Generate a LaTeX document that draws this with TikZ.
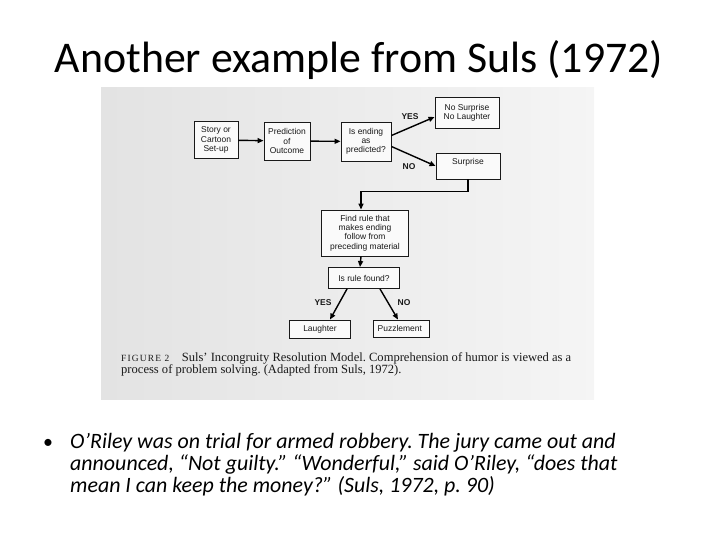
\documentclass[tikz,border=0pt]{standalone}
\usepackage{fontspec}
\setmainfont{Carlito}
\newfontfamily\diagfont{Liberation Sans}
\newfontfamily\capfont{Liberation Serif}
\usepackage{tikz}
\usetikzlibrary{calc,arrows.meta}
\frenchspacing

\begin{document}
\begin{tikzpicture}[x=1bp,y=-1bp,
  blk/.style={draw=black!90, line width=0.9bp, fill=black!2, inner sep=1bp,
    align=center, text=black!90, font=\diagfont\fontsize{8.5}{9.3}\selectfont},
  arr/.style={line width=1.4bp, draw=black, -{Triangle[length=6bp,width=5bp]}},
  lbl/.style={inner sep=0pt, text=black!90, font=\diagfont\bfseries\fontsize{8.5}{9}\selectfont}]
\useasboundingbox (0,0) rectangle (720,540);
% photo of the figure
\shade[left color=black!11, right color=black!4] (101,88) rectangle (594,399);
% title
\node[anchor=base, inner sep=0pt, font=\fontsize{44}{50}\selectfont] (title) at (359,73) {Another example from Suls (1972)};
% boxes
\foreach \n/\x/\y/\w/\h/\t in {
story/216/140/44/37/{Story or\\Cartoon\\Set-up},
predict/287/141/46/38/{Prediction\\of\\Outcome},
isend/366/141.5/50/39/{Is ending\\as\\predicted?},
nosurp/467/113/64/31/{No Surprise\\No Laughter},
surp/468/166/64/26/{Surprise\\~},
find/365/233/87/46/{Find rule that\\makes ending\\follow from\\preceding material},
isrule/364/278/71/21/{Is rule found?},
laugh/320/329/61/18/{Laughter},
puzzle/401/328.5/56/17/{Puzzlement}
}{
\node[blk, minimum width=\w bp, minimum height=\h bp] (\n) at (\x,\y) {\t};
}
% connectors
\draw[arr] (story) -- (predict);
\draw[arr] (predict) -- (isend);
\draw[arr] ([yshift=6bp]isend.east) -- ([yshift=-4bp]nosurp.west);
\draw[arr] ([yshift=-5bp]isend.east) -- (surp.west);
\draw[arr] (surp.south) -- ++(0,12) -| ([xshift=-4bp]find.north);
\draw[arr] ([xshift=-4bp]find.south) -- ([xshift=-4bp]isrule.north);
\draw[arr] ([xshift=-17bp]isrule.south) -- ([xshift=10bp]laugh.north);
\draw[arr] ([xshift=16bp]isrule.south) -- ([xshift=-3bp]puzzle.north);
% branch labels
\node[lbl] (yes1) at (410,117) {YES};
\node[lbl] (no1) at (409,167) {NO};
\node[lbl] (yes2) at (323,303) {YES};
\node[lbl] (no2) at (404,303) {NO};
% caption
\node[anchor=base west, inner sep=0pt, text=black!90] (caption) at (121,361.5) {\parbox[t]{480bp}{\capfont\fontsize{12.6}{12.3}\selectfont
  {\addfontfeature{LetterSpace=12}\fontsize{9.5}{12}\selectfont FIGURE 2}\quad Suls’ Incongruity Resolution Model. Comprehension of humor is viewed as a\\
  process of problem solving. (Adapted from Suls, 1972).}};
% bullet
\node[anchor=base west, inner sep=0pt, font=\fontsize{20}{22.5}\selectfont] (dot) at (43,448) {•};
\node[anchor=base west, inner sep=0pt] (joke) at (70,448) {\parbox[t]{640bp}{\fontsize{22}{22.5}\selectfont\itshape
  O’Riley was on trial for armed robbery. The jury came out and\\
  announced, “Not guilty.” “Wonderful,” said O’Riley, “does that\\
  mean I can keep the money?” (Suls, 1972, p. 90)}};
\end{tikzpicture}
\end{document}
